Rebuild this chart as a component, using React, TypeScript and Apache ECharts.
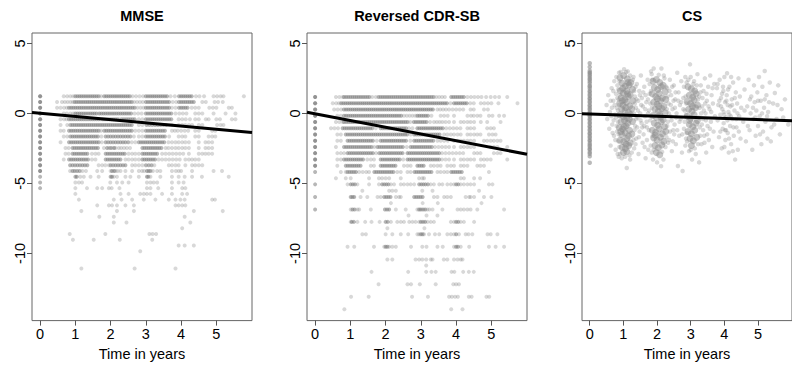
import React, { useEffect, useRef } from "react";
import * as echarts from "echarts";

// ---------- axes ----------
const X_MIN = -0.23;
const X_MAX = 6.01;
const Y_MIN = -14.8;
const Y_MAX = 5.74;
const xTickValues = [0, 1, 2, 3, 4, 5];
const yTickValues = [-10, -5, 0, 5];
const panelTitles = ["MMSE", "Reversed CDR-SB", "CS"];
const xAxisTitle = "Time in years";

// ---------- fitted lines (value at x = X_MIN and x = X_MAX) ----------
const fitTimes = [-0.23, 6.01];
const mmseFit = [0.07, -1.37];
const cdrFit = [0.08, -2.92];
const csFit = [-0.02, -0.52];

// ---------- MMSE (discrete levels) ----------
const mmseLevels = [1.22, 0.81, 0.4, -0.01, -0.42, -0.83, -1.24, -1.65, -2.06, -2.47, -2.88, -3.29, -3.7, -4.11, -4.52, -4.93, -5.34, -5.75, -6.16, -6.57, -6.98, -7.39, -7.8, -8.21, -8.62, -9.03, -9.44, -9.85, -10.26, -10.67, -11.08];
// times of heavily overlapping observations per level
const mmseDense: number[][] = [
  [0, 0, 1.0, 1.06, 1.12, 1.18, 1.24, 1.3, 1.36, 1.42, 1.48, 1.54, 1.6, 1.66, 1.82, 1.88, 1.94, 2.0, 2.06, 2.12, 2.18, 2.24, 2.3, 2.36, 2.42, 2.48, 2.54, 3.0, 3.06, 3.12, 3.18, 3.24, 3.3, 3.36, 3.42, 3.48, 3.54, 3.6, 3.94, 4.0, 4.06, 4.12, 4.18, 4.24, 4.3],
  [0, 0, 0.98, 1.04, 1.1, 1.16, 1.22, 1.28, 1.34, 1.4, 1.46, 1.52, 1.58, 1.64, 1.7, 1.76, 1.82, 1.88, 1.94, 2.0, 2.06, 2.12, 2.18, 2.24, 2.3, 2.36, 2.42, 2.48, 2.54, 2.6, 3.0, 3.06, 3.12, 3.18, 3.24, 3.3, 3.36, 3.42, 3.48, 3.54, 3.6, 3.66, 3.94, 4.0, 4.06, 4.12, 4.18, 4.24, 4.3, 4.36],
  [0, 0, 0.82, 0.88, 0.94, 1.0, 1.06, 1.12, 1.18, 1.24, 1.3, 1.36, 1.42, 1.48, 1.54, 1.6, 1.66, 1.72, 1.78, 1.84, 1.9, 1.96, 2.02, 2.08, 2.14, 2.2, 2.26, 2.32, 2.38, 2.44, 2.5, 2.56, 2.62, 2.68, 3.0, 3.06, 3.12, 3.18, 3.24, 3.3, 3.36, 3.42, 3.48, 3.54, 3.6, 3.66, 3.94, 4.0, 4.06, 4.12, 4.18],
  [0, 0, 1.0, 1.06, 1.12, 1.18, 1.24, 1.3, 1.36, 1.42, 1.48, 1.54, 1.6, 1.68, 1.74, 1.8, 1.86, 1.92, 1.98, 2.04, 2.1, 2.16, 2.22, 2.28, 2.34, 2.4, 2.46, 2.52, 2.58, 3.0, 3.06, 3.12, 3.18, 3.24, 3.3, 3.36, 3.42, 3.48, 3.54, 3.6, 3.66, 3.72],
  [0, 0, 0.82, 0.88, 0.94, 1.0, 1.06, 1.12, 1.18, 1.24, 1.3, 1.36, 1.42, 1.48, 1.54, 1.6, 1.66, 1.78, 1.84, 1.9, 1.96, 2.02, 2.08, 2.14, 2.2, 2.32, 2.38, 2.44, 2.5, 2.56, 2.62, 2.68, 3.0, 3.06, 3.12, 3.18, 3.24, 3.3, 3.36, 3.42, 3.48, 3.54, 3.6, 3.66, 3.72],
  [0, 0, 0.86, 0.92, 0.98, 1.04, 1.1, 1.16, 1.22, 1.28, 1.34, 1.4, 1.46, 1.52, 1.58, 1.64, 1.7, 1.76, 1.82, 1.88, 1.94, 2.0, 2.06, 2.12, 2.18, 2.24, 2.3, 2.36, 2.42, 2.48, 2.54, 2.6, 3.02, 3.1, 3.18, 3.26, 3.34, 3.42, 3.5, 3.58],
  [0, 0, 0.82, 0.88, 0.94, 1.0, 1.06, 1.12, 1.18, 1.24, 1.3, 1.36, 1.42, 1.48, 1.54, 1.6, 1.66, 1.82, 1.88, 1.94, 2.0, 2.06, 2.12, 2.18, 2.24, 2.3, 2.36, 2.42, 2.48, 2.54, 2.6, 3.0, 3.06, 3.12, 3.18, 3.24, 3.3, 3.36, 3.42, 3.48, 3.54],
  [0, 0, 0.86, 0.92, 0.98, 1.04, 1.1, 1.16, 1.22, 1.28, 1.34, 1.4, 1.46, 1.52, 1.58, 1.64, 1.86, 1.93, 2.0, 2.07, 2.14, 2.21, 2.28, 2.35, 2.42, 2.49, 2.56, 3.0, 3.06, 3.12, 3.18, 3.24, 3.3, 3.36, 3.42, 3.48, 3.54],
  [0, 0, 0.82, 0.88, 0.94, 1.0, 1.06, 1.12, 1.18, 1.24, 1.3, 1.36, 1.42, 1.48, 1.54, 1.6, 1.66, 1.86, 1.93, 2.0, 2.07, 2.14, 2.21, 2.28, 2.35, 2.42, 2.5, 2.8, 2.86, 2.92, 2.98, 3.04, 3.1, 3.16, 3.22, 3.28, 3.34, 3.4, 3.46, 3.52],
  [0, 0, 0.92, 0.98, 1.04, 1.1, 1.16, 1.22, 1.28, 1.34, 1.4, 1.46, 1.52, 1.58, 1.64, 1.9, 2.0, 2.1, 2.9, 2.96, 3.02, 3.08, 3.14, 3.2, 3.26, 3.32, 3.38, 3.44],
  [0, 0, 0.92, 0.98, 1.04, 1.1, 1.16, 1.22, 1.28, 1.34, 1.86, 1.92, 1.98, 2.04, 2.1, 2.16, 2.22, 2.28, 2.34, 2.4, 2.9, 2.96, 3.02, 3.08, 3.14, 3.2, 3.26, 3.32],
  [0, 0, 0.82, 0.88, 0.94, 1.0, 1.06, 1.12, 1.18, 1.24, 1.3, 1.36, 1.86, 1.92, 1.98, 2.04, 2.1, 2.16, 2.22, 2.28, 2.9, 2.96, 3.02, 3.08, 3.14, 3.2, 3.26],
  [0, 0, 0.85, 0.92, 0.99, 1.06, 1.13, 1.2, 1.27, 1.34, 2.0, 2.07, 2.14, 2.21, 2.28, 2.35, 2.42, 3.0, 3.08, 3.16],
  [0, 0, 0.92, 0.98, 1.05, 1.12, 2.04, 2.1, 3.03, 3.08, 3.13],
  [0, 1.0, 1.04, 2.0, 2.04, 3.03, 3.07],
  [0],
  [0],
];
// times of single observations per level
const mmseSparse: number[][] = [
  [0.67, 0.77, 0.86, 0.94, 1.73, 2.62, 2.72, 2.82, 2.92, 3.7, 3.82, 4.42, 4.52, 4.65, 4.92, 5.02, 5.12, 5.2, 5.78],
  [0.48, 0.62, 0.7, 0.78, 0.86, 0.93, 2.67, 2.75, 2.83, 2.91, 3.76, 3.86, 4.6, 4.7, 4.95, 5.05, 5.18],
  [0.48, 0.58, 0.68, 0.76, 2.76, 2.85, 2.93, 3.74, 3.84, 4.3, 4.4, 4.5, 4.8, 4.9, 5.0, 5.35, 5.44],
  [0.67, 0.76, 0.86, 0.94, 2.68, 2.78, 2.88, 3.84, 3.95, 4.05, 4.15, 4.4, 4.5, 4.6, 4.92, 5.26, 5.54],
  [0.58, 0.68, 0.75, 1.72, 2.26, 2.8, 2.9, 3.93, 4.03, 4.13, 4.25, 4.4, 4.5, 4.7, 4.78, 5.0, 5.1, 5.44, 5.54],
  [0.58, 0.77, 2.8, 2.9, 3.66, 3.74, 3.93, 4.03, 4.12, 4.22, 4.31, 4.5, 4.6, 5.02, 5.12, 5.2],
  [0.58, 0.67, 1.73, 2.7, 2.8, 2.9, 3.74, 3.82, 3.9, 4.0, 4.1, 4.2, 4.4, 4.5, 4.88, 4.97],
  [0.67, 0.77, 1.74, 2.66, 2.8, 2.9, 3.66, 3.93, 4.03, 4.12, 4.4, 4.5, 4.78, 4.88, 4.97],
  [0.58, 1.75, 2.6, 2.7, 3.64, 3.74, 3.84, 3.93, 4.03, 4.12, 4.22, 4.5, 4.69, 4.78, 4.88],
  [0.72, 0.81, 1.81, 1.95, 2.05, 2.14, 2.23, 2.3, 2.38, 2.46, 2.55, 3.56, 3.64, 3.74, 3.84, 3.93, 4.03, 4.12, 4.22, 4.5, 4.69, 4.78, 4.88],
  [0.72, 0.81, 1.47, 1.57, 1.66, 2.51, 2.61, 2.7, 2.8, 3.46, 3.56, 3.66, 3.76, 3.86, 3.96, 4.06, 4.22, 4.5, 4.6, 4.69, 4.78, 4.88],
  [0.67, 1.47, 1.57, 2.42, 2.51, 2.61, 2.7, 2.8, 3.36, 3.46, 3.56, 3.66, 3.76, 3.86, 3.96, 4.12, 4.22, 4.31, 4.4, 4.5],
  [1.66, 1.76, 1.85, 1.95, 2.61, 2.7, 2.8, 2.9, 3.24, 3.65, 3.74, 3.84, 3.93, 4.12, 4.31, 4.4, 4.5, 4.6],
  [0.85, 1.2, 1.3, 1.62, 1.76, 2.0, 2.14, 2.2, 2.28, 2.42, 2.61, 2.8, 2.89, 2.95, 3.2, 3.32, 3.41, 3.74, 3.85, 3.93, 4.0, 4.31, 4.92, 5.16],
  [1.14, 1.24, 1.43, 1.66, 2.09, 2.18, 2.42, 2.56, 2.8, 3.13, 3.41, 3.74, 3.93, 4.1, 4.31, 4.59, 5.35],
  [1.0, 1.1, 1.19, 1.99, 2.18, 2.33, 2.51, 3.03, 3.13, 3.22, 3.32, 3.74, 3.93, 4.07],
  [1.0, 1.33, 1.62, 1.76, 1.95, 2.03, 2.25, 3.03, 3.13, 3.35, 3.74, 4.03, 4.12],
  [1.0, 2.28, 2.51, 2.84, 2.94, 3.03, 3.13, 3.46, 3.74, 4.03, 4.17],
  [1.1, 2.09, 2.31, 2.61, 2.94, 3.27, 3.65, 3.84, 3.98, 4.1, 4.88, 4.96],
  [1.62, 1.95, 2.04, 2.18, 2.42, 2.66, 3.84, 3.93, 4.03, 4.12],
  [1.17, 2.18, 2.66, 4.36, 5.18],
  [1.68, 2.09, 4.1],
  [2.09, 2.45, 4.26],
  [4.03],
  [0.84, 1.85, 3.1, 3.19, 3.29],
  [0.93, 1.52, 2.26, 3.18],
  [3.93, 4.1, 4.36],
  [2.84],
  [],
  [],
  [1.17, 2.68, 3.84],
];

// ---------- Reversed CDR-SB (discrete levels) ----------
const cdrLevels = [1.17, 0.72, 0.28, -0.17, -0.61, -1.06, -1.51, -1.95, -2.4, -2.84, -3.29, -3.74, -4.18, -4.63, -5.07, -5.52, -5.97, -6.41, -6.86, -7.3, -7.75, -8.2, -8.64, -9.09, -9.53, -9.98, -10.43, -10.87, -11.32, -11.77, -12.21, -12.66, -13.1, -13.55, -13.99];
const cdrDense: number[][] = [
  [0, 0, 0.82, 0.88, 0.94, 1.0, 1.06, 1.12, 1.18, 1.24, 1.3, 1.36, 1.42, 1.48, 1.54, 1.8, 1.86, 1.92, 1.98, 2.04, 2.1, 2.16, 2.22, 2.28, 2.34, 2.4, 2.46, 2.52, 2.58, 2.64, 2.7, 2.76, 2.82, 2.88, 2.94, 3.0, 3.06, 3.12, 3.18, 3.24, 3.3, 3.36, 3.86, 3.92, 3.98, 4.04, 4.1, 4.16, 4.22],
  [0, 0, 0.74, 0.8, 0.86, 0.92, 0.98, 1.04, 1.1, 1.16, 1.22, 1.28, 1.34, 1.4, 1.46, 1.52, 1.58, 1.64, 1.7, 1.76, 1.82, 1.88, 1.94, 2.0, 2.06, 2.12, 2.18, 2.24, 2.3, 2.36, 2.42, 2.48, 2.54, 2.6, 2.66, 2.72, 2.78, 2.84, 2.9, 2.96, 3.02, 3.08, 3.14, 3.2, 3.26, 3.32, 3.38, 3.44, 3.5, 3.56, 3.62, 3.68, 3.74, 3.94, 4.0, 4.06, 4.12, 4.18, 4.24, 4.3],
  [0, 0, 0.82, 0.88, 0.94, 1.0, 1.06, 1.12, 1.18, 1.24, 1.3, 1.36, 1.42, 1.48, 1.54, 1.6, 1.66, 1.72, 1.78, 1.84, 1.9, 1.96, 2.02, 2.08, 2.14, 2.2, 2.26, 2.32, 2.38, 2.44, 2.5, 2.56, 2.62, 2.68, 2.74, 2.8, 2.86, 2.92, 2.98, 3.04, 3.1, 3.16, 3.22, 3.28, 3.34],
  [0, 0, 0.82, 0.88, 0.94, 1.0, 1.06, 1.12, 1.18, 1.24, 1.3, 1.36, 1.42, 1.48, 1.54, 1.6, 1.66, 1.72, 1.78, 1.84, 1.9, 1.96, 2.02, 2.08, 2.14, 2.2, 2.26, 2.32, 2.38, 2.44, 2.9, 2.96, 3.02, 3.08, 3.14, 3.2],
  [0, 0, 0.82, 0.88, 0.94, 1.0, 1.06, 1.12, 1.18, 1.24, 1.3, 1.36, 1.42, 1.48, 1.54, 1.6, 1.66, 1.72, 1.78, 1.84, 1.9, 1.96, 2.02, 2.08, 2.14, 2.2, 2.26, 2.32, 2.38, 2.44, 2.5, 2.56, 2.62, 2.8, 2.86, 2.92, 2.98, 3.04, 3.1, 3.16],
  [0, 0, 0.78, 0.84, 0.9, 0.96, 1.02, 1.08, 1.14, 1.2, 1.26, 1.32, 1.38, 1.44, 1.5, 1.56, 1.62, 1.86, 1.92, 1.98, 2.04, 2.1, 2.16, 2.22, 2.28, 2.34, 2.4, 2.46, 2.52, 2.58, 2.9, 2.96, 3.02, 3.08, 3.14, 3.2, 3.26, 3.32, 3.38, 3.44, 3.5, 3.56, 3.62],
  [0, 0, 0.87, 0.93, 0.99, 1.05, 1.11, 1.17, 1.23, 1.29, 1.35, 1.41, 1.47, 1.53, 1.59, 1.65, 1.71, 1.77, 1.83, 1.89, 1.95, 2.01, 2.07, 2.13, 2.19, 2.25, 2.31, 2.37, 2.43, 2.49, 2.55, 2.61, 2.81, 2.87, 2.93, 2.99, 3.05, 3.11, 3.17, 3.23, 3.29, 3.35, 3.41, 3.47, 3.53],
  [0, 0, 0.92, 0.98, 1.04, 1.1, 1.16, 1.22, 1.28, 1.34, 1.4, 1.46, 1.52, 1.58, 1.64, 1.86, 1.92, 1.98, 2.04, 2.1, 2.16, 2.22, 2.28, 2.34, 2.4, 2.46, 2.52, 2.58, 2.81, 2.87, 2.93, 2.99, 3.05, 3.11, 3.17, 3.23, 3.29, 3.35],
  [0, 0, 0.82, 0.88, 0.94, 1.0, 1.06, 1.12, 1.18, 1.24, 1.3, 1.36, 1.42, 1.48, 1.54, 1.6, 1.77, 1.83, 1.89, 1.95, 2.01, 2.07, 2.13, 2.19, 2.25, 2.31, 2.37, 2.43, 2.49, 2.71, 2.77, 2.83, 2.89, 2.95, 3.01, 3.07, 3.13, 3.19, 3.25, 3.31],
  [0, 0, 0.92, 0.98, 1.04, 1.1, 1.16, 1.22, 1.28, 1.34, 1.4, 1.46, 1.52, 1.58, 1.64, 1.82, 1.88, 1.94, 2.0, 2.06, 2.12, 2.18, 2.24, 2.3, 2.36, 2.42, 2.48, 2.62, 2.68, 2.74, 2.8, 2.86, 2.92, 2.98, 3.04, 3.1, 3.16, 3.22, 3.28, 3.34, 3.4, 3.46, 3.52],
  [0, 0, 0.82, 0.88, 0.94, 1.0, 1.06, 1.12, 1.18, 1.24, 1.3, 1.36, 1.86, 1.92, 1.98, 2.04, 2.1, 2.16, 2.22, 2.28, 2.34, 2.4, 2.62, 2.68, 2.74, 2.8, 2.86, 2.92, 2.98, 3.04, 3.1, 3.16, 3.22, 3.28, 3.34, 3.4, 3.46, 3.52],
  [0, 0, 0.87, 0.93, 0.99, 1.05, 1.11, 1.17, 1.23, 1.29, 1.86, 1.92, 1.98, 2.04, 2.1, 2.16, 2.22, 2.28, 2.9, 2.96, 3.02, 3.08],
  [0, 0.92, 0.98, 1.04, 1.1, 1.16, 1.68, 1.74, 1.8, 1.86, 1.92, 1.98, 2.04, 2.1, 2.16, 2.22, 2.82, 2.88, 2.94, 3.0, 3.06, 3.12, 3.18, 3.24, 3.3, 3.86, 3.92, 3.98, 4.04, 4.1, 4.16],
  [],
  [0, 1.01, 1.07, 1.13, 1.9, 1.96, 2.02, 2.08, 2.95, 3.01, 3.07, 3.13, 3.2, 4.0, 4.06],
  [],
  [0, 1.01, 1.06, 1.11, 1.96, 2.02, 2.08, 2.14, 2.81, 2.87, 2.93, 2.99, 3.05],
  [],
  [0, 1.06, 1.12, 1.98, 2.04, 2.1, 2.95, 3.0, 3.06, 3.12],
  [],
  [1.04, 1.1, 2.0, 2.06, 3.0, 3.06, 3.12, 4.0, 4.06],
  [],
  [3.0, 3.05, 4.0],
  [],
  [2.0, 2.05, 4.0, 4.05],
];
const cdrSparse: number[][] = [
  [0.59, 0.69, 0.78, 1.62, 1.72, 3.44, 3.52, 3.6, 3.68, 4.32, 4.42, 4.52, 4.62, 4.72, 4.85, 4.98, 5.1, 5.22, 5.45],
  [0.5, 0.6, 0.68, 3.84, 4.4, 4.5, 4.7, 4.8, 4.9, 5.0, 5.2, 5.74],
  [0.54, 0.64, 0.74, 3.47, 3.55, 3.63, 3.71, 3.8, 3.9, 4.0, 4.1, 4.2, 4.41, 4.5, 4.79, 4.9],
  [0.63, 0.73, 2.52, 2.6, 2.68, 2.76, 2.84, 3.3, 3.56, 3.66, 3.76, 3.94, 4.32, 4.42, 4.5, 4.6, 4.69, 4.93, 5.03, 5.22, 5.36],
  [0.59, 0.69, 0.78, 2.7, 3.26, 3.37, 3.45, 3.53, 3.61, 3.7, 3.8, 3.94, 4.13, 4.22, 4.32, 4.41, 4.51, 4.7, 4.88, 5.26],
  [0.45, 0.55, 0.65, 1.72, 2.66, 2.76, 3.72, 3.82, 3.92, 4.02, 4.12, 4.32, 4.41, 4.51, 4.88, 4.98, 5.07],
  [0.63, 0.73, 2.71, 3.66, 3.75, 3.85, 3.94, 4.04, 4.13, 4.32, 4.41, 4.51, 4.6, 4.69, 4.93, 5.03, 5.12],
  [0.63, 0.73, 1.75, 2.7, 3.47, 3.56, 3.66, 3.76, 3.94, 4.04, 4.13, 4.22, 4.32, 4.41, 4.51, 4.79, 4.88, 4.98, 5.07, 5.17, 5.26],
  [0.59, 1.68, 2.6, 3.4, 3.5, 3.6, 3.7, 3.8, 3.94, 4.13, 4.22, 4.32, 4.41, 4.51, 4.98, 5.07, 5.17, 5.45],
  [0.63, 0.73, 0.82, 1.73, 3.6, 3.7, 3.8, 3.9, 4.0, 4.1, 4.2, 4.51, 4.6, 4.69, 5.07, 5.17, 5.26],
  [0.63, 0.73, 1.48, 1.58, 1.67, 2.5, 3.6, 3.7, 3.8, 3.94, 4.13, 4.22, 4.32, 4.41, 4.51, 4.7, 4.79, 4.88, 4.98, 5.45],
  [0.63, 1.58, 1.67, 2.52, 2.62, 2.71, 3.28, 3.37, 3.47, 3.56, 3.75, 3.85, 3.94, 4.13, 4.22, 4.32, 4.6, 4.69, 4.79],
  [0.73, 0.87, 1.25, 1.35, 1.45, 1.53, 2.33, 2.43, 2.62, 2.71, 3.47, 3.56, 3.66, 3.75, 4.93],
  [0.59, 0.87, 1.01, 1.53, 1.81, 1.9, 2.0, 2.1, 2.43, 2.95, 3.04, 3.09, 4.13, 4.22, 4.51, 4.68],
  [0.92, 1.2, 1.53, 1.81, 2.15, 2.24, 2.43, 2.52, 2.62, 2.71, 2.81, 3.28, 3.37, 3.52, 3.61, 3.75, 3.85, 3.94, 4.13, 4.22, 4.32, 4.41, 4.51, 4.93, 5.03],
  [1.34, 2.1, 2.19, 2.29, 3.04, 3.33, 4.65],
  [1.29, 1.48, 1.77, 1.86, 2.29, 2.38, 2.43, 3.37, 3.47, 3.66, 3.75, 3.85, 4.27, 4.37, 4.41, 4.51, 4.79, 5.0],
  [2.15, 3.05, 3.48, 4.72],
  [1.01, 1.2, 1.25, 1.58, 2.29, 2.57, 2.9, 3.18, 3.24, 3.33, 3.61, 4.04, 4.13, 4.22, 4.32, 4.41, 4.6, 5.36],
  [2.65, 3.16, 3.47],
  [1.01, 1.2, 1.42, 1.6, 1.83, 2.15, 2.33, 2.43, 2.52, 2.67, 2.76, 2.85, 2.95, 3.19, 3.28, 3.37, 3.85, 3.94, 4.13, 4.22, 4.51],
  [2.05, 3.1],
  [1.34, 1.44, 2.0, 2.19, 2.43, 2.64, 2.9, 2.95, 3.09, 3.23, 3.4, 3.52, 3.75, 3.85, 3.94, 4.08, 4.27, 4.35, 4.46, 4.89, 4.98, 5.17],
  [],
  [0.92, 1.11, 1.67, 1.96, 2.1, 2.19, 2.29, 2.72, 3.04, 3.16, 3.47, 3.62, 3.94, 4.13, 4.37, 4.93, 5.12, 5.36],
  [],
  [2.05, 2.19, 2.85, 2.95, 3.04, 3.15, 3.28, 3.33, 3.65, 3.75, 3.94, 4.04, 4.13, 4.18],
  [3.15],
  [1.6, 2.64, 3.15, 3.3, 3.42, 3.87, 3.95, 4.2, 4.36, 4.5],
  [],
  [1.8, 2.62, 2.72, 2.97, 3.42, 3.92, 4.0, 4.08],
  [],
  [1.02, 1.52, 2.75, 3.2, 3.8, 3.88, 3.97, 4.05, 4.36, 4.44, 4.86, 4.94],
  [],
  [0.83, 3.86, 4.18],
];

// ---------- CS (continuous) ----------
const csBaselineY = [3.58, 3.31, 3.04, 2.93, 2.86, 2.74, 2.63, 2.49, 2.41, 2.27, 2.15, 1.98, 1.9, 1.77, 1.61, 1.52, 1.37, 1.26, 1.1, 1.02, 0.87, 0.77, 0.6, 0.51, 0.36, 0.27, 0.1, 0.02, -0.13, -0.22, -0.39, -0.48, -0.64, -0.73, -0.9, -0.98, -1.14, -1.23, -1.4, -1.47, -1.63, -1.74, -1.9, -1.98, -2.14, -2.26, -2.37, -2.52, -2.6, -2.77, -2.88, -3.06, -3.53];
const csCore: [number, number][] = [
  [0.9, 2.55], [1.01, 2.7], [1.12, 2.45], [1.22, 2.2], [0.96, 2.15], [1.06, 1.95], [1.17, 2.02], [1.27, 1.72], [0.91, 1.62], [1.0, 1.45], [1.1, 1.6], [1.2, 1.33], [0.94, 1.12], [1.04, 0.98], [1.14, 1.2], [1.28, 0.9], [0.89, 0.72], [0.99, 0.58], [1.09, 0.8], [1.19, 0.52], [0.95, 0.31], [1.05, 0.18], [1.15, 0.08], [1.25, 0.33], [0.9, -0.1], [1.0, -0.22], [1.1, -0.32], [1.21, -0.08], [0.93, -0.6], [1.03, -0.5], [1.13, -0.71], [1.27, -0.58], [0.88, -1.02], [0.98, -1.12], [1.08, -0.9], [1.18, -1.2], [0.95, -1.5], [1.05, -1.38], [1.15, -1.62], [1.25, -1.48], [0.9, -1.92], [1.01, -2.02], [1.1, -1.8], [1.2, -2.1], [0.96, -2.42], [1.06, -2.5], [1.16, -2.3], [1.0, -2.8], [1.1, -2.72], [0.97, 0.9], [1.07, 0.42], [1.17, -0.42], [1.02, -0.95], [1.12, 1.4], [0.92, -1.3], [1.08, -2.2], [1.14, 2.2], [0.98, 1.8],
  [1.88, 2.3], [1.98, 2.42], [2.08, 2.2], [2.18, 2.0], [1.92, 1.85], [2.02, 1.7], [2.12, 1.9], [2.24, 1.55], [1.86, 1.4], [1.96, 1.2], [2.06, 1.42], [2.16, 1.1], [2.26, 1.0], [1.9, 0.8], [2.0, 0.65], [2.1, 0.9], [2.2, 0.5], [1.94, 0.3], [2.04, 0.15], [2.14, 0.35], [2.24, 0.05], [1.88, -0.15], [1.98, -0.3], [2.08, -0.1], [2.18, -0.45], [1.92, -0.7], [2.02, -0.85], [2.12, -0.6], [2.22, -0.95], [1.86, -1.2], [1.96, -1.35], [2.06, -1.1], [2.16, -1.45], [2.26, -1.3], [1.9, -1.75], [2.0, -1.9], [2.1, -1.7], [2.2, -2.0], [1.94, -2.3], [2.04, -2.45], [2.14, -2.25], [1.98, -2.8], [2.08, -2.95], [2.01, 1.05], [2.11, -0.25], [1.95, -1.55], [2.05, 0.5],
  [2.92, 1.9], [3.02, 1.75], [3.12, 1.6], [2.96, 1.3], [3.06, 1.15], [3.16, 1.4], [2.9, 0.85], [3.0, 0.7], [3.1, 0.95], [3.2, 0.6], [2.94, 0.3], [3.04, 0.15], [3.14, 0.4], [2.9, -0.2], [3.0, -0.35], [3.1, -0.1], [3.2, -0.5], [2.96, -0.8], [3.06, -0.95], [3.16, -0.7], [2.92, -1.3], [3.02, -1.45], [3.12, -1.2], [2.98, -1.8], [3.08, -1.95], [3.18, -1.7], [3.02, -2.3], [3.05, 0.5], [2.97, -0.5],
];
const csScatter: [number, number][] = [
  [0.5, 0.6], [0.52, -0.4], [0.55, 1.3], [0.58, -1.1], [0.6, 0.1], [0.62, -2.3], [0.65, 1.8], [0.67, -0.8], [0.7, 0.9], [0.72, -1.6], [0.73, 2.3], [0.75, -0.1], [0.77, -2.6], [0.78, 1.4], [0.8, 0.4], [0.81, -1.3], [0.82, 2.0], [0.84, -0.6], [0.85, -2.0], [0.86, 1.0], [0.87, 2.9], [0.86, -3.1], [1.02, 3.15], [1.08, 2.95], [1.18, -3.0], [1.1, -3.9], [1.2, -3.3], [1.3, 2.6], [1.32, -2.5], [1.34, 1.2], [1.35, -0.9], [1.37, 0.4], [1.38, -1.8], [1.4, 2.1], [1.42, -0.3], [1.44, 0.9], [1.45, -2.9], [1.47, 1.6], [1.48, -1.3], [1.5, 0.0], [1.52, 2.7], [1.54, -0.7], [1.55, 1.1], [1.57, -2.1], [1.58, 0.5], [1.6, -1.5], [1.62, 1.9], [1.64, -0.2], [1.66, -3.2], [1.68, 0.8], [1.7, -1.0], [1.72, 2.4], [1.74, -2.6], [1.76, 0.2], [1.78, 1.4], [1.8, -0.5], [1.82, 3.0],
  [0.62, 0.9], [0.64, -0.2], [0.66, 0.4], [0.68, -1.4], [0.7, 1.6], [0.71, -0.5], [0.74, 0.6], [0.76, -1.9], [0.78, -0.3], [0.79, 2.6], [0.8, -0.9], [0.82, 1.1], [0.83, -2.9], [0.84, 0.2], [0.85, 1.7], [0.86, -1.5], [0.87, -0.2], [0.87, 0.6], [0.88, 2.3], [0.88, -2.4], [0.89, 1.3], [0.9, -2.9], [0.92, 2.95], [0.95, -3.2], [1.05, -3.1], [1.13, 3.0], [1.2, 2.7], [1.25, -2.8], [1.28, 2.4], [1.3, -1.9], [1.31, 0.0], [1.32, 1.6], [1.33, -1.2], [1.34, 0.7], [1.36, -2.2], [1.36, 1.9], [1.38, -0.4], [1.39, 1.0], [1.41, -1.0], [1.43, 0.2], [1.46, -1.7], [1.49, 1.3], [1.51, -0.5], [1.53, 0.6], [1.56, -1.0], [1.59, 1.5], [1.63, -2.4], [1.65, 0.3], [1.69, -0.6], [1.73, 1.0],
  [1.84, 2.8], [1.9, 3.2], [2.13, 3.2], [2.2, 2.7], [1.88, -3.3], [2.0, -3.5], [2.19, -3.3], [2.12, -3.77], [2.3, 1.8], [2.32, -0.6], [2.34, 0.7], [2.36, -1.9], [2.38, 2.4], [2.4, -0.2], [2.42, 1.3], [2.44, -2.7], [2.46, 0.3], [2.48, -1.2], [2.5, 2.0], [2.52, -0.8], [2.54, 1.0], [2.56, -2.2], [2.58, 0.0], [2.6, 2.9], [2.62, -3.76], [2.64, 1.5], [2.66, -1.6], [2.68, 0.6], [2.7, -0.4], [2.72, 2.3], [2.74, -2.8], [2.76, -4.12], [2.78, 1.1], [2.8, -1.1], [2.82, 0.2], [2.84, 2.6], [2.86, -1.8],
  [1.62, -0.9], [1.66, 1.3], [1.7, -1.9], [1.73, 0.0], [1.76, -1.2], [1.78, 2.1], [1.8, 0.7], [1.81, -2.3], [1.82, 1.6], [1.83, -0.2], [1.84, -2.8], [1.85, 0.4], [1.86, 2.4], [1.87, -1.6], [1.9, -2.6], [2.05, 2.75], [2.15, -2.75], [2.22, 2.5], [2.25, -2.4], [2.27, 1.9], [2.28, -1.7], [2.29, 0.3], [2.3, -0.9], [2.31, 1.2], [2.33, -2.1], [2.35, 0.0], [2.37, 1.6], [2.39, -1.3], [2.41, 0.6], [2.43, -0.5], [2.45, 1.9], [2.47, -2.0], [2.49, 0.9], [2.51, -1.5], [2.53, 0.4], [2.55, 1.5], [2.57, -0.3], [2.6, -1.2], [2.63, 0.9], [2.67, -0.6],
  [2.98, 3.5], [3.0, 2.6], [3.1, 2.3], [3.2, 2.8], [2.95, -2.7], [3.04, -3.3], [3.15, -2.9], [3.25, 1.2], [3.27, -1.0], [3.3, 2.0], [3.32, -2.2], [3.34, 0.5], [3.36, -0.4], [3.38, 1.6], [3.4, -1.6], [3.42, 2.5], [3.44, 0.0], [3.46, -2.8], [3.48, 0.9], [3.5, -0.9], [3.52, 1.9], [3.54, -1.9], [3.56, 0.3], [3.58, 2.7], [3.6, -0.6], [3.62, 1.3], [3.64, -2.4], [3.66, 0.7], [3.68, -1.3], [3.7, 2.1], [3.72, -0.2], [3.25, -3.5],
  [2.72, 0.8], [2.75, -1.5], [2.78, 0.3], [2.8, 1.9], [2.82, -0.6], [2.84, -2.3], [2.85, 1.2], [2.86, -0.1], [2.87, 0.7], [2.88, -1.4], [2.88, 2.2], [2.89, -2.0], [2.93, 2.4], [3.0, -2.6], [3.08, 2.1], [3.12, -2.5], [3.18, 2.0], [3.22, -2.2], [3.22, 1.0], [3.24, -0.3], [3.26, 0.4], [3.28, -1.6], [3.29, 1.5], [3.31, 0.0], [3.33, -0.8], [3.35, 1.1], [3.37, -1.2], [3.39, 0.2], [3.41, -2.1], [3.43, 0.7], [3.45, -0.5], [3.47, 1.4], [3.49, -1.5], [3.53, 0.5], [3.57, -1.1], [3.61, 0.1], [3.65, 1.8],
  [3.78, 1.8], [3.8, -0.5], [3.82, 0.6], [3.84, -1.7], [3.86, 2.4], [3.88, -0.1], [3.9, 1.1], [3.92, -2.5], [3.94, 0.3], [3.95, -1.1], [3.97, 1.6], [3.98, -0.7], [4.0, 2.6], [4.02, 0.8], [4.03, -1.9], [4.05, -0.3], [4.07, 1.3], [4.08, 2.87], [4.1, -1.4], [4.12, 0.1], [4.13, -2.8], [4.15, 1.9], [4.17, -0.9], [4.18, 0.5], [4.2, -2.2], [4.22, 1.0], [4.24, -0.4], [4.26, 2.2], [4.28, -1.6], [4.3, 0.2], [4.32, -3.3], [4.34, 1.5], [4.36, -1.0], [4.38, 0.7], [4.4, -2.6], [4.42, 2.5], [4.44, -0.2], [4.46, 1.2], [4.48, -1.8], [4.5, 0.4], [3.9, 0.5], [4.0, -0.1], [4.1, 0.6], [3.96, 1.9], [4.05, -1.2], [4.15, -0.1],
  [3.85, 0.9], [3.88, -1.3], [3.93, 1.4], [3.98, 0.1], [4.02, -1.2], [4.06, 0.9], [4.09, -0.5], [4.11, 1.7], [4.14, -1.8], [4.19, -0.2], [4.23, 0.6], [4.27, -1.0], [4.31, 1.1], [4.35, -0.4], [4.39, 0.0], [4.43, -1.3], [3.8, 2.1], [4.0, -2.4], [4.2, 2.6], [4.25, -2.7],
  [4.56, -0.6], [4.6, 1.7], [4.64, -2.0], [4.68, 0.5], [4.72, 2.4], [4.75, -1.2], [4.78, 0.0], [4.8, 1.2], [4.83, -2.6], [4.86, -0.4], [4.88, 2.0], [4.9, 0.8], [4.93, -1.6], [4.95, 0.2], [4.98, 1.5], [5.0, -0.9], [5.03, 2.6], [5.05, -0.2], [5.08, 0.9], [5.1, -2.2], [5.13, 1.9], [5.15, -1.3], [5.18, 0.4], [5.2, 3.03], [5.22, -0.6], [5.25, 1.3], [5.28, -1.8], [5.3, 0.1], [5.35, 2.2], [5.4, -1.0], [5.45, 0.7], [5.5, 1.45], [5.55, -0.4], [5.6, 2.0], [5.65, -1.5], [5.7, 0.3], [5.8, 1.0], [5.9, -0.8],
  [4.6, 0.2], [4.7, -0.9], [4.76, 1.0], [4.85, 0.4], [4.92, -0.3], [5.0, 0.9], [5.06, -1.5], [5.12, 0.0], [5.2, 1.0], [5.27, -0.2], [5.33, 0.8], [5.38, -2.0], [5.48, -0.8], [5.58, 0.6], [5.75, -0.3],
];

// ---------- helpers ----------
function rowsToPoints(levels: number[], rows: number[][]): number[][] {
  const out: number[][] = [];
  rows.forEach((row, i) => row.forEach((t) => out.push([t, levels[i]])));
  return out;
}
function fitLine(vals: number[]): number[][] {
  return fitTimes.map((t, i) => [t, vals[i]]);
}

const FONT = "'Liberation Sans', Arial, sans-serif";
const GRID_LEFTS = [32, 307, 582];
const GRID_TOP = 33;
const GRID_W = 220;
const GRID_H = 289;
const DOT = "#707070";
const CS_DOT = "#8c8c8c";

export default function App() {
  const ref = useRef<HTMLDivElement>(null);
  useEffect(() => {
    if (!ref.current) return;
    const chart = echarts.init(ref.current, undefined, { renderer: "svg" });

    const grids = GRID_LEFTS.map((left) => ({
      left,
      top: GRID_TOP,
      width: GRID_W,
      height: GRID_H,
      show: true,
      borderColor: "#666",
      borderWidth: 1,
      backgroundColor: "transparent",
    }));

    const xAxes = GRID_LEFTS.map((_, i) => ({
      type: "value",
      gridIndex: i,
      position: "bottom",
      min: X_MIN,
      max: X_MAX,
      axisLine: { show: false, onZero: false },
      splitLine: { show: false },
      axisTick: { show: true, length: 5, lineStyle: { color: "#555" }, customValues: xTickValues },
      axisLabel: { customValues: xTickValues, fontSize: 14.5, color: "#000", margin: 5.5, fontFamily: FONT },
      name: xAxisTitle,
      nameLocation: "middle",
      nameGap: 22.5,
      nameTextStyle: { fontSize: 14.5, color: "#000", fontFamily: FONT },
    }));

    const yAxes = GRID_LEFTS.map((_, i) => ({
      type: "value",
      gridIndex: i,
      position: "left",
      min: Y_MIN,
      max: Y_MAX,
      axisLine: { show: false, onZero: false },
      splitLine: { show: false },
      axisTick: { show: true, length: 5, lineStyle: { color: "#555" }, customValues: yTickValues },
      axisLabel: { customValues: yTickValues, rotate: 90, fontSize: 14.5, color: "#000", margin: 4.5, fontFamily: FONT },
    }));

    const scatter = (idx: number, data: number[][], color: string, size: number, opacity: number) => ({
      type: "scatter",
      xAxisIndex: idx,
      yAxisIndex: idx,
      data,
      symbol: "circle",
      symbolSize: size,
      itemStyle: { color, opacity },
      silent: true,
      progressive: 0,
      z: 2,
    });
    const line = (idx: number, vals: number[]) => ({
      type: "line",
      xAxisIndex: idx,
      yAxisIndex: idx,
      data: fitLine(vals),
      symbol: "none",
      lineStyle: { color: "#000", width: 3 },
      silent: true,
      z: 5,
    });

    chart.setOption({
      animation: false,
      backgroundColor: "#fff",
      title: panelTitles.map((text, i) => ({
        text,
        left: GRID_LEFTS[i] + GRID_W / 2,
        top: 8,
        padding: 0,
        textAlign: "center",
        textStyle: { fontSize: 14.5, fontWeight: "bold", color: "#000", fontFamily: FONT },
      })),
      grid: grids,
      xAxis: xAxes,
      yAxis: yAxes,
      series: [
        scatter(0, rowsToPoints(mmseLevels, mmseSparse), DOT, 4, 0.27),
        scatter(0, rowsToPoints(mmseLevels, mmseDense), DOT, 4, 0.5),
        line(0, mmseFit),
        scatter(1, rowsToPoints(cdrLevels, cdrSparse), DOT, 4, 0.27),
        scatter(1, rowsToPoints(cdrLevels, cdrDense), DOT, 4, 0.5),
        line(1, cdrFit),
        scatter(2, csScatter, CS_DOT, 4.5, 0.33),
        scatter(2, csCore, CS_DOT, 7, 0.5),
        scatter(2, csBaselineY.map((y) => [0, y]), CS_DOT, 4.5, 0.6),
        line(2, csFit),
      ],
    });
    return () => chart.dispose();
  }, []);

  return (
    <div
      ref={ref}
      style={{ position: "absolute", left: 0, top: 0, width: 792, height: 366 }}
    />
  );
}
